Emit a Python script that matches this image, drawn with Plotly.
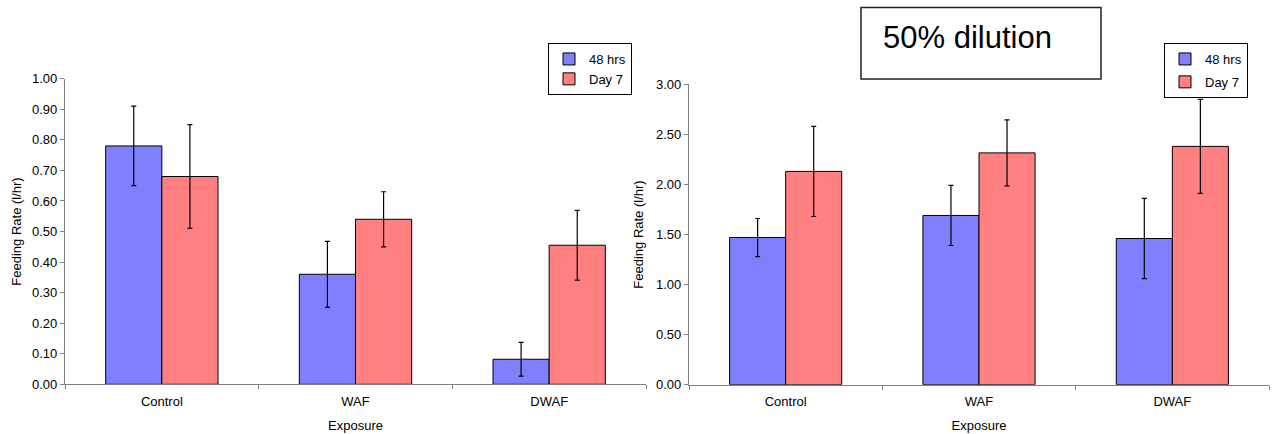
import plotly.graph_objects as go

categories = ["Control", "WAF", "DWAF"]
series_names = ["48 hrs", "Day 7"]

left_48 = [0.78, 0.36, 0.082]
left_48_err = [0.13, 0.108, 0.055]
left_d7 = [0.68, 0.54, 0.455]
left_d7_err = [0.17, 0.09, 0.114]

right_48 = [1.47, 1.69, 1.46]
right_48_err = [0.19, 0.30, 0.40]
right_d7 = [2.13, 2.315, 2.38]
right_d7_err = [0.45, 0.33, 0.47]

annotation_text = "50% dilution"
y_title = "Feeding Rate (l/hr)"
x_title = "Exposure"

BLUE = "#8080FF"
RED = "#FF8080"
FONT = "Arial, Liberation Sans, sans-serif"
FS = 13
W, H = 1273, 434


def px_x(p):
    return p / W


def px_y(p):
    return 1 - p / H


fig = go.Figure()

def add_bar(name, y, err, color, xaxis, yaxis, legend):
    fig.add_trace(go.Bar(
        x=categories, y=y, name=name,
        marker=dict(color=color, line=dict(color="black", width=1)),
        error_y=dict(type="data", array=err, visible=True, color="black",
                     thickness=1.2, width=2.5),
        xaxis=xaxis, yaxis=yaxis, legend=legend, legendgroup=name + legend,
    ))

add_bar(series_names[0], left_48, left_48_err, BLUE, "x", "y", "legend")
add_bar(series_names[1], left_d7, left_d7_err, RED, "x", "y", "legend")
add_bar(series_names[0], right_48, right_48_err, BLUE, "x2", "y2", "legend2")
add_bar(series_names[1], right_d7, right_d7_err, RED, "x2", "y2", "legend2")

axis_common = dict(
    showline=True, linecolor="#808080", linewidth=1.3,
    ticks="outside", tickcolor="#808080", ticklen=4, tickwidth=1,
    showgrid=False, zeroline=False, automargin=False,
    tickfont=dict(family=FONT, size=FS, color="black"),
)

title_font = dict(family=FONT, size=FS, color="black")
xcommon = dict(axis_common, tickson="boundaries", ticklabelstandoff=5)

fig.update_layout(
    width=W, height=H,
    margin=dict(l=0, r=0, t=0, b=0, autoexpand=False),
    paper_bgcolor="white", plot_bgcolor="white",
    barmode="group", bargap=0.42, bargroupgap=0,
    font=dict(family=FONT, size=FS, color="black"),
    xaxis=dict(xcommon, domain=[px_x(65), px_x(646)], anchor="y",
               title=dict(text=x_title, font=title_font, standoff=12)),
    yaxis=dict(axis_common, domain=[px_y(384.3), px_y(78.7)], anchor="x",
               range=[0, 1.0], dtick=0.1, tickformat=".2f",
               title=dict(text=y_title, font=title_font, standoff=7)),
    xaxis2=dict(xcommon, domain=[px_x(689), px_x(1269)], anchor="y2",
                title=dict(text=x_title, font=title_font, standoff=12)),
    yaxis2=dict(axis_common, domain=[px_y(384.7), px_y(84.3)], anchor="x2",
                range=[0, 3.0], dtick=0.5, tickformat=".2f",
                title=dict(text=y_title, font=title_font, standoff=9)),
    legend=dict(x=px_x(548), y=px_y(43), xanchor="left", yanchor="top",
                bordercolor="black", borderwidth=1, bgcolor="white",
                font=dict(family=FONT, size=FS, color="black"),
                traceorder="grouped", tracegroupgap=0, itemwidth=30),
    legend2=dict(x=px_x(1164), y=px_y(43), xanchor="left", yanchor="top",
                 bordercolor="black", borderwidth=1, bgcolor="white",
                 font=dict(family=FONT, size=FS, color="black"),
                 traceorder="grouped", tracegroupgap=3, itemwidth=30),
    showlegend=True,
)

fig.add_shape(type="rect", xref="paper", yref="paper",
              x0=px_x(861), x1=px_x(1101), y0=px_y(79), y1=px_y(7.5),
              line=dict(color="#222222", width=1.5), fillcolor="white", layer="above")
fig.add_annotation(xref="paper", yref="paper", x=px_x(881), y=px_y(38),
                   xanchor="left", yanchor="middle", showarrow=False,
                   text=annotation_text,
                   font=dict(family=FONT, size=31, color="black"))

fig.write_html("out.html", config={"displayModeBar": False},
               post_script="document.body.style.margin='0';")
